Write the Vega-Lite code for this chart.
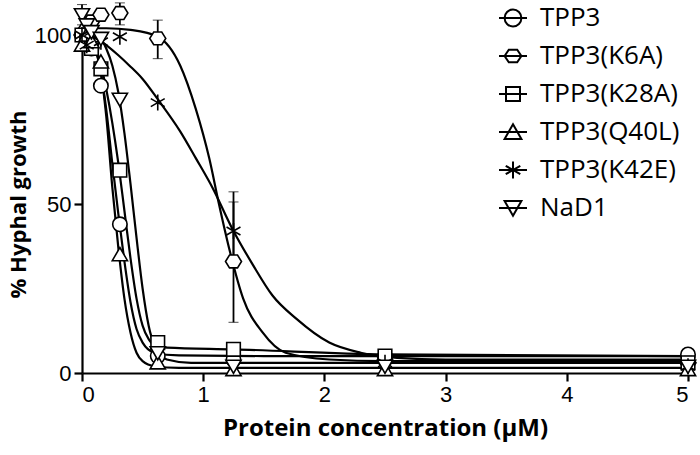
{
  "$schema": "https://vega.github.io/schema/vega-lite/v6.json",
  "autosize": {"type": "none"},
  "width": 606,
  "height": 338,
  "padding": {"left": 82, "top": 35, "right": 12, "bottom": 82},
  "background": "white",
  "datasets": {
    "pts": [
      {"series": "TPP3", "x": 0, "y": 100},
      {"series": "TPP3", "x": 0.039, "y": 98},
      {"series": "TPP3", "x": 0.078, "y": 96},
      {"series": "TPP3", "x": 0.156, "y": 85},
      {"series": "TPP3", "x": 0.3125, "y": 44},
      {"series": "TPP3", "x": 0.625, "y": 5},
      {"series": "TPP3", "x": 1.25, "y": 4},
      {"series": "TPP3", "x": 2.5, "y": 4},
      {"series": "TPP3", "x": 5, "y": 5.5},
      {"series": "TPP3(K6A)", "x": 0, "y": 100},
      {"series": "TPP3(K6A)", "x": 0.039, "y": 102},
      {"series": "TPP3(K6A)", "x": 0.078, "y": 104},
      {"series": "TPP3(K6A)", "x": 0.156, "y": 106},
      {"series": "TPP3(K6A)", "x": 0.3125, "y": 106.5, "lo": 103, "hi": 109.5},
      {"series": "TPP3(K6A)", "x": 0.625, "y": 99, "lo": 93, "hi": 104.4},
      {"series": "TPP3(K6A)", "x": 1.25, "y": 33, "lo": 15, "hi": 53.6},
      {"series": "TPP3(K6A)", "x": 2.5, "y": 5},
      {"series": "TPP3(K6A)", "x": 5, "y": 3},
      {"series": "TPP3(K28A)", "x": 0, "y": 100},
      {"series": "TPP3(K28A)", "x": 0.039, "y": 98},
      {"series": "TPP3(K28A)", "x": 0.078, "y": 96},
      {"series": "TPP3(K28A)", "x": 0.156, "y": 90},
      {"series": "TPP3(K28A)", "x": 0.3125, "y": 60},
      {"series": "TPP3(K28A)", "x": 0.625, "y": 9},
      {"series": "TPP3(K28A)", "x": 1.25, "y": 7},
      {"series": "TPP3(K28A)", "x": 2.5, "y": 5},
      {"series": "TPP3(K28A)", "x": 5, "y": 3},
      {"series": "TPP3(Q40L)", "x": 0, "y": 97},
      {"series": "TPP3(Q40L)", "x": 0.039, "y": 100},
      {"series": "TPP3(Q40L)", "x": 0.078, "y": 98},
      {"series": "TPP3(Q40L)", "x": 0.156, "y": 92},
      {"series": "TPP3(Q40L)", "x": 0.3125, "y": 35},
      {"series": "TPP3(Q40L)", "x": 0.625, "y": 3},
      {"series": "TPP3(Q40L)", "x": 1.25, "y": 1},
      {"series": "TPP3(Q40L)", "x": 2.5, "y": 1},
      {"series": "TPP3(Q40L)", "x": 5, "y": 1},
      {"series": "TPP3(K42E)", "x": 0, "y": 100},
      {"series": "TPP3(K42E)", "x": 0.039, "y": 97},
      {"series": "TPP3(K42E)", "x": 0.078, "y": 101},
      {"series": "TPP3(K42E)", "x": 0.156, "y": 98},
      {"series": "TPP3(K42E)", "x": 0.3125, "y": 99.5},
      {"series": "TPP3(K42E)", "x": 0.625, "y": 80},
      {"series": "TPP3(K42E)", "x": 1.25, "y": 42, "lo": 34, "hi": 50.6},
      {"series": "TPP3(K42E)", "x": 2.5, "y": 3},
      {"series": "TPP3(K42E)", "x": 5, "y": 2},
      {"series": "NaD1", "x": 0, "y": 106, "lo": 103, "hi": 109},
      {"series": "NaD1", "x": 0.039, "y": 103},
      {"series": "NaD1", "x": 0.078, "y": 101},
      {"series": "NaD1", "x": 0.156, "y": 99},
      {"series": "NaD1", "x": 0.3125, "y": 81},
      {"series": "NaD1", "x": 0.625, "y": 6},
      {"series": "NaD1", "x": 1.25, "y": 2},
      {"series": "NaD1", "x": 2.5, "y": 2},
      {"series": "NaD1", "x": 5, "y": 2}
    ],
    "curves": [
      {"series": "TPP3", "x": 0, "y": 100},
      {"series": "TPP3", "x": 0.1, "y": 97},
      {"series": "TPP3", "x": 0.15, "y": 90},
      {"series": "TPP3", "x": 0.2, "y": 78},
      {"series": "TPP3", "x": 0.25, "y": 62},
      {"series": "TPP3", "x": 0.3, "y": 47},
      {"series": "TPP3", "x": 0.35, "y": 33},
      {"series": "TPP3", "x": 0.4, "y": 21},
      {"series": "TPP3", "x": 0.45, "y": 13},
      {"series": "TPP3", "x": 0.5, "y": 9},
      {"series": "TPP3", "x": 0.6, "y": 6},
      {"series": "TPP3", "x": 0.8, "y": 5.2},
      {"series": "TPP3", "x": 1.5, "y": 5},
      {"series": "TPP3", "x": 5, "y": 5},
      {"series": "TPP3(K6A)", "x": 0, "y": 102},
      {"series": "TPP3(K6A)", "x": 0.2, "y": 102},
      {"series": "TPP3(K6A)", "x": 0.4, "y": 101.5},
      {"series": "TPP3(K6A)", "x": 0.625, "y": 99.5},
      {"series": "TPP3(K6A)", "x": 0.81, "y": 91},
      {"series": "TPP3(K6A)", "x": 0.94, "y": 78},
      {"series": "TPP3(K6A)", "x": 1.05, "y": 63.5},
      {"series": "TPP3(K6A)", "x": 1.13, "y": 50},
      {"series": "TPP3(K6A)", "x": 1.22, "y": 36},
      {"series": "TPP3(K6A)", "x": 1.33, "y": 22},
      {"series": "TPP3(K6A)", "x": 1.49, "y": 12},
      {"series": "TPP3(K6A)", "x": 1.68, "y": 6},
      {"series": "TPP3(K6A)", "x": 2.04, "y": 4},
      {"series": "TPP3(K6A)", "x": 2.5, "y": 3.5},
      {"series": "TPP3(K6A)", "x": 5, "y": 3.5},
      {"series": "TPP3(K28A)", "x": 0, "y": 100},
      {"series": "TPP3(K28A)", "x": 0.1, "y": 97},
      {"series": "TPP3(K28A)", "x": 0.15, "y": 92},
      {"series": "TPP3(K28A)", "x": 0.2, "y": 84},
      {"series": "TPP3(K28A)", "x": 0.25, "y": 74},
      {"series": "TPP3(K28A)", "x": 0.3, "y": 62},
      {"series": "TPP3(K28A)", "x": 0.35, "y": 48},
      {"series": "TPP3(K28A)", "x": 0.4, "y": 34},
      {"series": "TPP3(K28A)", "x": 0.45, "y": 22},
      {"series": "TPP3(K28A)", "x": 0.5, "y": 14},
      {"series": "TPP3(K28A)", "x": 0.55, "y": 10},
      {"series": "TPP3(K28A)", "x": 0.6, "y": 8.2},
      {"series": "TPP3(K28A)", "x": 0.7, "y": 7.5},
      {"series": "TPP3(K28A)", "x": 1.25, "y": 7},
      {"series": "TPP3(K28A)", "x": 2.5, "y": 5.5},
      {"series": "TPP3(K28A)", "x": 5, "y": 5},
      {"series": "TPP3(Q40L)", "x": 0, "y": 99},
      {"series": "TPP3(Q40L)", "x": 0.1, "y": 96},
      {"series": "TPP3(Q40L)", "x": 0.15, "y": 90},
      {"series": "TPP3(Q40L)", "x": 0.2, "y": 76},
      {"series": "TPP3(Q40L)", "x": 0.25, "y": 55},
      {"series": "TPP3(Q40L)", "x": 0.3, "y": 37},
      {"series": "TPP3(Q40L)", "x": 0.35, "y": 22},
      {"series": "TPP3(Q40L)", "x": 0.4, "y": 12},
      {"series": "TPP3(Q40L)", "x": 0.45, "y": 6},
      {"series": "TPP3(Q40L)", "x": 0.5, "y": 3.5},
      {"series": "TPP3(Q40L)", "x": 0.6, "y": 2},
      {"series": "TPP3(Q40L)", "x": 0.8, "y": 1.5},
      {"series": "TPP3(Q40L)", "x": 5, "y": 1.5},
      {"series": "TPP3(K42E)", "x": 0, "y": 101},
      {"series": "TPP3(K42E)", "x": 0.1, "y": 99.5},
      {"series": "TPP3(K42E)", "x": 0.2, "y": 97},
      {"series": "TPP3(K42E)", "x": 0.3, "y": 94},
      {"series": "TPP3(K42E)", "x": 0.39, "y": 91},
      {"series": "TPP3(K42E)", "x": 0.5, "y": 87},
      {"series": "TPP3(K42E)", "x": 0.625, "y": 81},
      {"series": "TPP3(K42E)", "x": 0.81, "y": 71.5},
      {"series": "TPP3(K42E)", "x": 0.94, "y": 63.5},
      {"series": "TPP3(K42E)", "x": 1.08, "y": 54.6},
      {"series": "TPP3(K42E)", "x": 1.24, "y": 42.7},
      {"series": "TPP3(K42E)", "x": 1.41, "y": 32},
      {"series": "TPP3(K42E)", "x": 1.57, "y": 23},
      {"series": "TPP3(K42E)", "x": 1.77, "y": 16},
      {"series": "TPP3(K42E)", "x": 2.04, "y": 9},
      {"series": "TPP3(K42E)", "x": 2.3, "y": 6},
      {"series": "TPP3(K42E)", "x": 2.6, "y": 4.5},
      {"series": "TPP3(K42E)", "x": 3, "y": 4},
      {"series": "TPP3(K42E)", "x": 5, "y": 4},
      {"series": "NaD1", "x": 0, "y": 103},
      {"series": "NaD1", "x": 0.1, "y": 101},
      {"series": "NaD1", "x": 0.2, "y": 96},
      {"series": "NaD1", "x": 0.25, "y": 91},
      {"series": "NaD1", "x": 0.3, "y": 83},
      {"series": "NaD1", "x": 0.35, "y": 71},
      {"series": "NaD1", "x": 0.4, "y": 56},
      {"series": "NaD1", "x": 0.45, "y": 40},
      {"series": "NaD1", "x": 0.5, "y": 25},
      {"series": "NaD1", "x": 0.55, "y": 14},
      {"series": "NaD1", "x": 0.6, "y": 8},
      {"series": "NaD1", "x": 0.7, "y": 4},
      {"series": "NaD1", "x": 0.9, "y": 3},
      {"series": "NaD1", "x": 5, "y": 3}
    ]
  },
  "layer": [
    {
      "data": {"name": "curves"},
      "mark": {"type": "line", "interpolate": "monotone", "color": "black", "strokeWidth": 2.2},
      "encoding": {
        "x": {"field": "x", "type": "quantitative"},
        "y": {"field": "y", "type": "quantitative"},
        "detail": {"field": "series"}
      }
    },
    {
      "data": {"name": "pts"},
      "transform": [{"filter": "isValid(datum.lo)"}],
      "mark": {"type": "errorbar", "color": "black", "ticks": {"size": 10, "strokeWidth": 1.8, "color": "black"}, "rule": {"strokeWidth": 1.8, "color": "black"}},
      "encoding": {
        "x": {"field": "x", "type": "quantitative"},
        "y": {"field": "lo", "type": "quantitative"},
        "y2": {"field": "hi"}
      }
    },
    {
      "data": {"name": "pts"},
      "mark": {"type": "point", "filled": false, "fill": "white", "fillOpacity": 1, "stroke": "black", "strokeWidth": 1.6, "size": 256, "opacity": 1},
      "encoding": {
        "x": {"field": "x", "type": "quantitative"},
        "y": {"field": "y", "type": "quantitative"},
        "shape": {
          "field": "series", "type": "nominal", "legend": null,
          "scale": {
            "domain": ["TPP3", "TPP3(K6A)", "TPP3(K28A)", "TPP3(Q40L)", "TPP3(K42E)", "NaD1"],
            "range": [
              "M0.9,0A0.9,0.9,0,1,1,-0.9,0A0.9,0.9,0,1,1,0.9,0Z",
              "M-1,0L-0.5,-0.8L0.5,-0.8L1,0L0.5,0.8L-0.5,0.8Z",
              "M-0.85,-0.85H0.85V0.85H-0.85Z",
              "M0,-0.9L0.95,0.75L-0.95,0.75Z",
              "M0,-1V1M-0.87,-0.5L0.87,0.5M-0.87,0.5L0.87,-0.5",
              "M0,0.9L0.95,-0.75L-0.95,-0.75Z"
            ]
          }
        }
      }
    },
    {
      "data": {"name": "pts"},
      "mark": {"type": "point", "filled": false, "opacity": 0, "size": 784},
      "encoding": {
        "x": {"field": "x", "type": "quantitative"},
        "y": {"field": "y", "type": "quantitative"},
        "shape": {
          "field": "series", "type": "nominal",
          "scale": {
            "domain": ["TPP3", "TPP3(K6A)", "TPP3(K28A)", "TPP3(Q40L)", "TPP3(K42E)", "NaD1"],
            "range": [
              "M-1,0H1M0.6,0A0.6,0.6,0,1,1,-0.6,0A0.6,0.6,0,1,1,0.6,0Z",
              "M-1,0H1M-0.6,0L-0.3,-0.45L0.3,-0.45L0.6,0L0.3,0.45L-0.3,0.45Z",
              "M-1,0H1M-0.5,-0.5H0.5V0.5H-0.5Z",
              "M-1,0H1M0,-0.55L0.6,0.5L-0.6,0.5Z",
              "M-1,0H1M0,-0.6V0.6M-0.52,-0.3L0.52,0.3M-0.52,0.3L0.52,-0.3",
              "M-1,0H1M0,0.55L0.6,-0.5L-0.6,-0.5Z"
            ]
          },
          "legend": {
            "title": null,
            "orient": "none",
            "legendX": 416,
            "legendY": -32,
            "padding": 0,
            "rowPadding": 10,
            "symbolSize": 784,
            "symbolOpacity": 1,
            "symbolFillColor": "white",
            "symbolStrokeColor": "black",
            "symbolStrokeWidth": 2,
            "labelFont": "Open Sans",
            "labelFontSize": 26,
            "labelColor": "black",
            "labelOffset": 12,
            "labelLimit": 300
          }
        }
      }
    }
  ],
  "resolve": {"scale": {"shape": "independent"}},
  "encoding": {
    "x": {
      "field": "x", "type": "quantitative",
      "scale": {"domain": [0, 5], "nice": false, "zero": false},
      "axis": {"values": [0, 1, 2, 3, 4, 5], "title": "Protein concentration (\u03bcM)", "format": "d", "titleFontSize": 24, "titlePadding": 11}
    },
    "y": {
      "field": "y", "type": "quantitative",
      "scale": {"domain": [0, 100], "nice": false},
      "axis": {"values": [0, 50, 100], "title": "% Hyphal growth", "format": "d", "titleFontSize": 22, "titlePadding": 4}
    }
  },
  "config": {
    "view": {"stroke": null},
    "axis": {
      "grid": false,
      "domainColor": "black",
      "domainWidth": 2.2,
      "tickColor": "black",
      "tickWidth": 2.2,
      "tickSize": 8,
      "labelFont": "Liberation Sans",
      "labelFontSize": 22,
      "labelColor": "black",
      "labelPadding": 3,
      "titleFont": "Open Sans",
      "titleFontWeight": "bold",
      "titleColor": "black"
    }
  }
}
